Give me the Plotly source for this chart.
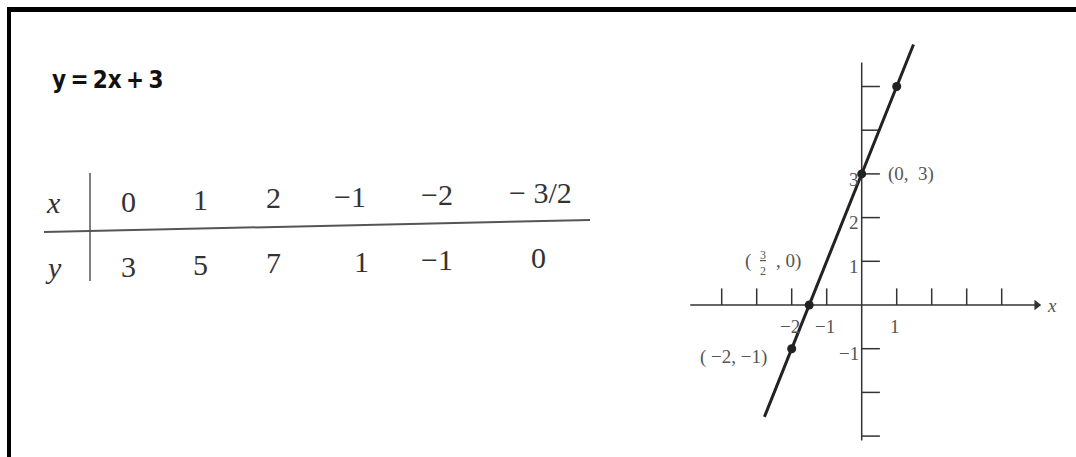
import plotly.graph_objects as go

W, H = 1076, 457

# table data
row_x = ["0", "1", "2", "\u22121", "\u22122", "\u2212 3/2"]
row_y = ["3", "5", "7", "1", "\u22121", "0"]

# plotted points and the line y = 2x + 3
pts_x = [1, 0, -1.5, -2]
pts_y = [5, 3, 0, -1]
line_x = [-2.78, 1.48]
line_y = [-2.56, 5.96]

# axis ticks
x_ticks = [-4, -3, -2, -1, 1, 2, 3, 4]
y_ticks = [-3, -2, -1, 1, 2, 3, 4, 5]
x_tick_labels = {-2: "\u22122", -1: "\u22121", 1: "1"}
y_tick_labels = {3: "3", 2: "2", 1: "1", -1: "\u22121"}


def px(x):
    return x / W


def py(y):
    return 1 - y / H


# graph geometry (pixels)
ox, oy = 861.7, 305.0   # origin
ux, uy = 35.0, 43.7     # pixels per unit
gx0, gx1, gy0, gy1 = 680, 1060, 30, 450

dark = "#222222"
grey = "#555555"
serif = "Liberation Serif, Times New Roman, serif"

fig = go.Figure()

# axes drawn through the figure's own scales
fig.add_trace(go.Scatter(x=[-4.9, 4.95], y=[0, 0], mode="lines",
                         line=dict(color="#333333", width=1.5), hoverinfo="skip"))
fig.add_trace(go.Scatter(x=[5.0], y=[0], mode="markers",
                         marker=dict(symbol="triangle-right", size=9, color="#333333"),
                         hoverinfo="skip"))
fig.add_trace(go.Scatter(x=[0, 0], y=[-3.1, 5.55], mode="lines",
                         line=dict(color="#333333", width=1.5), hoverinfo="skip"))

tx, ty = [], []
for t in x_ticks:
    tx += [t, t, None]
    ty += [0, 0.38, None]
fig.add_trace(go.Scatter(x=tx, y=ty, mode="lines",
                         line=dict(color="#333333", width=1.5), hoverinfo="skip"))
tx, ty = [], []
for t in y_ticks:
    tx += [0, 0.52, None]
    ty += [t, t, None]
fig.add_trace(go.Scatter(x=tx, y=ty, mode="lines",
                         line=dict(color="#333333", width=1.5), hoverinfo="skip"))

# the line and its points
fig.add_trace(go.Scatter(x=line_x, y=line_y, mode="lines",
                         line=dict(color=dark, width=3)))
fig.add_trace(go.Scatter(x=pts_x, y=pts_y, mode="markers",
                         marker=dict(color=dark, size=9)))

ann = []
for v, s in x_tick_labels.items():
    ann.append(dict(x=v - 0.05, y=-0.5, xref="x", yref="y", text=s, showarrow=False,
                    font=dict(family=serif, size=19, color=grey)))
for v, s in y_tick_labels.items():
    ann.append(dict(x=-0.02, y=v - 0.12, xref="x", yref="y", text=s, showarrow=False,
                    xanchor="right", font=dict(family=serif, size=19, color=grey)))
ann.append(dict(x=5.45, y=0, xref="x", yref="y", text="<i>x</i>", showarrow=False,
                font=dict(family=serif, size=19, color=grey)))
ann.append(dict(x=1.4, y=3.0, xref="x", yref="y", text="(0,  3)", showarrow=False,
                font=dict(family=serif, size=19, color=grey)))
ann.append(dict(x=-3.65, y=-1.2, xref="x", yref="y", text="( \u22122, \u22121)",
                showarrow=False, font=dict(family=serif, size=19, color=grey)))
ann.append(dict(x=-3.25, y=1.0, xref="x", yref="y", text="(", showarrow=False,
                font=dict(family=serif, size=19, color=grey)))
ann.append(dict(x=-2.83, y=0.97, xref="x", yref="y", text="<u>3</u><br>2",
                showarrow=False, font=dict(family=serif, size=12, color=grey)))
ann.append(dict(x=-2.1, y=1.0, xref="x", yref="y", text=", 0)", showarrow=False,
                font=dict(family=serif, size=19, color=grey)))

# equation heading
ann.append(dict(x=px(50), y=py(80), xref="paper", yref="paper",
                xanchor="left", yanchor="middle",
                text="<b>y\u2009=\u20092x\u2009+\u20093</b>", showarrow=False,
                font=dict(family="DejaVu Sans Condensed, Liberation Sans Narrow, Roboto",
                          size=24, color="#111111")))

# table of values (the scan is slightly tilted, rows rise to the right)
col_x_px = [128, 200, 273, 350, 437, 540]
col_y_px = [128, 200, 273, 362, 437, 538]
tilt = 0.022
tfont = dict(family=serif, size=30, color="#333333")


def cell(xp, yp, s):
    return dict(x=px(xp), y=py(yp), xref="paper", yref="paper", text=s,
                xanchor="center", yanchor="middle", showarrow=False, font=tfont)


ann.append(cell(53, 203, "<i>x</i>"))
ann.append(cell(53, 267, "<i>y</i>"))
for cx, sx in zip(col_x_px, row_x):
    ann.append(cell(cx, 204 - tilt * cx, sx))
for cx, sy in zip(col_y_px, row_y):
    ann.append(cell(cx, 269 - tilt * cx, sy))

shapes = [
    # frame
    dict(type="line", xref="paper", yref="paper", x0=px(7), x1=1, y0=py(9.5), y1=py(9.5),
         line=dict(color="black", width=5)),
    dict(type="line", xref="paper", yref="paper", x0=px(9), x1=px(9), y0=py(7), y1=0,
         line=dict(color="black", width=4)),
    # table rules
    dict(type="line", xref="paper", yref="paper", x0=px(44), x1=px(590), y0=py(232), y1=py(220),
         line=dict(color="#555555", width=2)),
    dict(type="line", xref="paper", yref="paper", x0=px(90), x1=px(90), y0=py(173), y1=py(281),
         line=dict(color="#555555", width=1.5)),
]

fig.update_layout(
    width=W, height=H,
    margin=dict(l=0, r=0, t=0, b=0),
    paper_bgcolor="white", plot_bgcolor="white",
    showlegend=False,
    annotations=ann, shapes=shapes,
    xaxis=dict(domain=[px(gx0), px(gx1)], range=[(gx0 - ox) / ux, (gx1 - ox) / ux],
               visible=False),
    yaxis=dict(domain=[py(gy1), py(gy0)], range=[(oy - gy1) / uy, (oy - gy0) / uy],
               visible=False),
)

fig.write_html("out.html", config={"displayModeBar": False},
               post_script="document.body.style.margin='0';")
